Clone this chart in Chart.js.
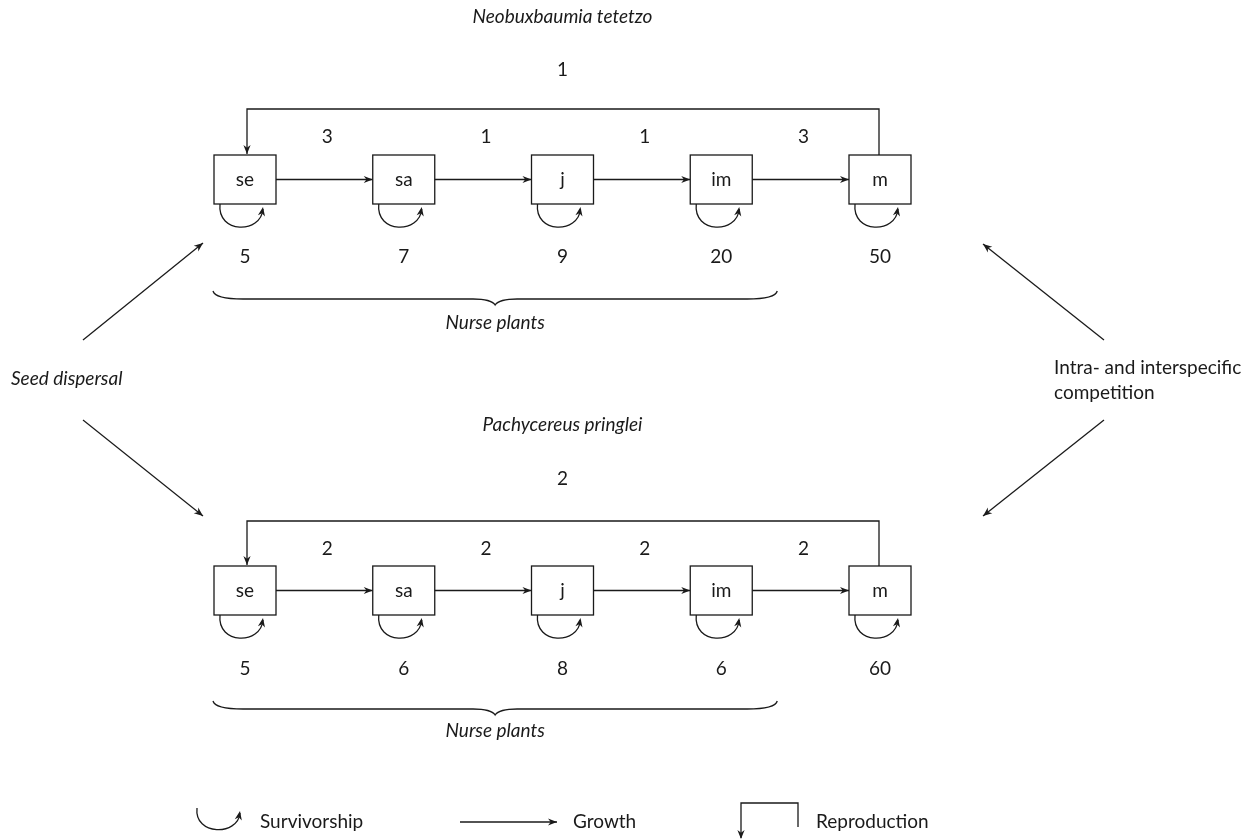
<!DOCTYPE html>
<html>
<head>
<meta charset="utf-8">
<script src="https://cdn.jsdelivr.net/npm/chart.js@4"></script>
<style>
  html, body { margin: 0; padding: 0; background: #fff; }
  #diagram { display: block; }
</style>
</head>
<body>
<canvas id="diagram" width="1259" height="839"></canvas>
<script>
// Life cycle data
const stages = ['se', 'sa', 'j', 'im', 'm'];
const species = ['Neobuxbaumia tetetzo', 'Pachycereus pringlei'];
const neoGrowth = [3, 1, 1, 3];
const neoSurvival = [5, 7, 9, 20, 50];
const neoReproduction = 1;
const pachyGrowth = [2, 2, 2, 2];
const pachySurvival = [5, 6, 8, 6, 60];
const pachyReproduction = 2;
const legendItems = ['Survivorship', 'Growth', 'Reproduction'];

// Layout (in canvas units, mapped through the hidden scales)
const STAGE_X0 = 245;
const STAGE_DX = 158.75;
const BOX_W = 62;
const BOX_H = 49;
const rows = [
    { title: 17, repLabel: 70, repLine: 109, growthLabel: 137, box: 179.5, surv: 257, brace: 299, nurse: 323 },
    { title: 425, repLabel: 479, repLine: 521, growthLabel: 549, box: 590.5, surv: 669, brace: 709, nurse: 731 }
];

const INK = '#1a1a1a';
const FONT = 'Lato, "DejaVu Sans", sans-serif';

function arrowHead(ctx, x, y, angle) {
    const len = 9, half = 3.6;
    ctx.save();
    ctx.translate(x, y);
    ctx.rotate(angle);
    ctx.beginPath();
    ctx.moveTo(0, 0);
    ctx.lineTo(-len, -half);
    ctx.lineTo(-len * 0.7, 0);
    ctx.lineTo(-len, half);
    ctx.closePath();
    ctx.fill();
    ctx.restore();
}

function arrow(ctx, x1, y1, x2, y2) {
    ctx.beginPath();
    ctx.moveTo(x1, y1);
    ctx.lineTo(x2, y2);
    ctx.stroke();
    arrowHead(ctx, x2, y2, Math.atan2(y2 - y1, x2 - x1));
}

function loop(ctx, x1, y1, x2, y2, depth) {
    ctx.beginPath();
    ctx.moveTo(x1, y1);
    ctx.bezierCurveTo(x1 - 3, y1 + depth, x2 - 2, y1 + depth, x2, y2 + 2);
    ctx.stroke();
    arrowHead(ctx, x2, y2, Math.atan2(y2 + 2 - (y1 + depth * 0.55), 2));
}

function brace(ctx, x1, x2, y) {
    const mid = (x1 + x2) / 2;
    ctx.beginPath();
    ctx.moveTo(x1, y - 8);
    ctx.quadraticCurveTo(x1 + 2, y, x1 + 30, y);
    ctx.lineTo(mid - 22, y);
    ctx.quadraticCurveTo(mid - 4, y, mid, y + 6);
    ctx.quadraticCurveTo(mid + 4, y, mid + 22, y);
    ctx.lineTo(x2 - 30, y);
    ctx.quadraticCurveTo(x2 - 2, y, x2, y - 8);
    ctx.stroke();
}

function text(ctx, str, x, y, italic, align) {
    ctx.font = (italic ? 'italic ' : '') + '19px ' + FONT;
    ctx.textAlign = align || 'center';
    ctx.textBaseline = 'middle';
    ctx.fillText(str, x, y);
}

const lifeCyclePlugin = {
    id: 'lifeCycle',
    afterDatasetsDraw(chart) {
        const ctx = chart.ctx;
        const xs = chart.scales.x, ys = chart.scales.y;
        const X = v => xs.getPixelForValue(v);
        const Y = v => ys.getPixelForValue(v);
        ctx.save();
        ctx.strokeStyle = INK;
        ctx.fillStyle = INK;
        ctx.lineWidth = 1.3;

        chart.data.datasets.forEach((ds, di) => {
            const row = rows[di];
            const pts = chart.getDatasetMeta(di).data;
            const w = X(BOX_W) - X(0), h = Y(BOX_H) - Y(0);

            text(ctx, ds.label, X(STAGE_X0 + 2 * STAGE_DX), Y(row.title), true);

            // reproduction
            const first = pts[0], last = pts[pts.length - 1];
            const top = first.y - h / 2;
            ctx.beginPath();
            ctx.moveTo(last.x - 1, top);
            ctx.lineTo(last.x - 1, Y(row.repLine));
            ctx.lineTo(first.x + 2, Y(row.repLine));
            ctx.lineTo(first.x + 2, top - 1);
            ctx.stroke();
            arrowHead(ctx, first.x + 2, top - 1, Math.PI / 2);
            text(ctx, String(ds.reproduction), X(STAGE_X0 + 2 * STAGE_DX), Y(row.repLabel), false);

            pts.forEach((p, i) => {
                // box
                ctx.fillStyle = '#fff';
                ctx.fillRect(p.x - w / 2, p.y - h / 2, w, h);
                ctx.strokeRect(p.x - w / 2, p.y - h / 2, w, h);
                ctx.fillStyle = INK;
                text(ctx, stages[i], p.x, p.y, false);

                // survivorship loop
                const bottom = p.y + h / 2;
                loop(ctx, p.x - 25, bottom, p.x + 18, bottom + 3, 30);
                text(ctx, String(ds.survival[i]), p.x, Y(row.surv), false);

                // growth to next stage
                if (i < pts.length - 1) {
                    const q = pts[i + 1];
                    arrow(ctx, p.x + w / 2, p.y, q.x - w / 2, q.y);
                    text(ctx, String(ds.growth[i]), (p.x + q.x) / 2 + 3, Y(row.growthLabel), false);
                }
            });

            // nurse plants brace
            brace(ctx, pts[0].x - 32, pts[3].x + 56, Y(row.brace));
            text(ctx, 'Nurse plants', (pts[0].x - 32 + pts[3].x + 56) / 2, Y(row.nurse), true);
        });

        // side factors
        text(ctx, 'Seed dispersal', X(11), Y(379), true, 'left');
        arrow(ctx, X(83), Y(340), X(203), Y(243));
        arrow(ctx, X(83), Y(420), X(203), Y(516));
        text(ctx, 'Intra- and interspecific', X(1054), Y(368), false, 'left');
        text(ctx, 'competition', X(1054), Y(393), false, 'left');
        arrow(ctx, X(1104), Y(340), X(983), Y(244));
        arrow(ctx, X(1104), Y(420), X(983), Y(516));

        // legend
        loop(ctx, X(197), Y(808), X(240), Y(811), 28);
        text(ctx, legendItems[0], X(260), Y(822), false, 'left');
        arrow(ctx, X(460), Y(822), X(557), Y(822));
        text(ctx, legendItems[1], X(573), Y(822), false, 'left');
        ctx.beginPath();
        ctx.moveTo(X(798), Y(827));
        ctx.lineTo(X(798), Y(803));
        ctx.lineTo(X(741), Y(803));
        ctx.lineTo(X(741), Y(838));
        ctx.stroke();
        arrowHead(ctx, X(741), Y(839), Math.PI / 2);
        text(ctx, legendItems[2], X(816), Y(822), false, 'left');

        ctx.restore();
    }
};

const datasets = species.map((name, di) => ({
    label: name,
    data: stages.map((s, i) => ({ x: STAGE_X0 + i * STAGE_DX, y: rows[di].box })),
    growth: di === 0 ? neoGrowth : pachyGrowth,
    survival: di === 0 ? neoSurvival : pachySurvival,
    reproduction: di === 0 ? neoReproduction : pachyReproduction,
    pointRadius: 0,
    showLine: false
}));

new Chart(document.getElementById('diagram'), {
    type: 'scatter',
    data: { datasets: datasets },
    options: {
        responsive: false,
        animation: false,
        devicePixelRatio: 1,
        layout: { padding: 0 },
        plugins: { legend: { display: false }, tooltip: { enabled: false }, title: { display: false } },
        events: [],
        scales: {
            x: { type: 'linear', min: 0, max: 1259, display: false },
            y: { type: 'linear', min: 0, max: 839, reverse: true, display: false }
        }
    },
    plugins: [lifeCyclePlugin]
});
</script>
</body>
</html>
